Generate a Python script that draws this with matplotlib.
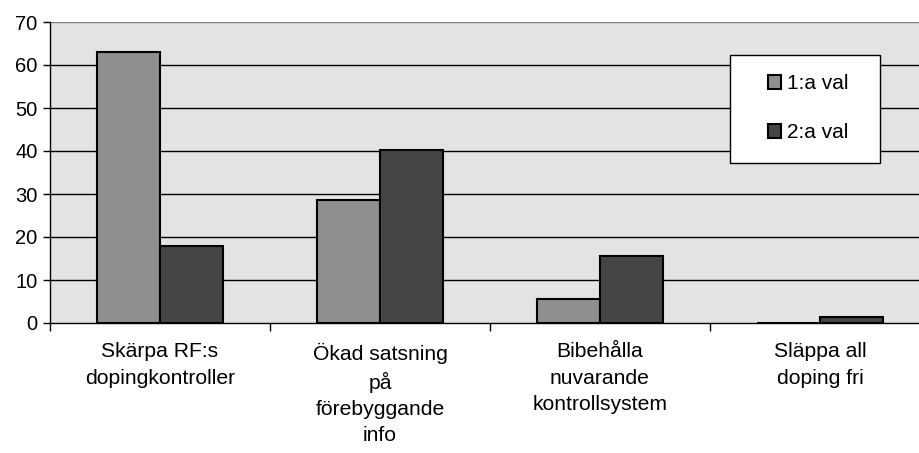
import matplotlib.pyplot as plt
import numpy as np
from matplotlib.patches import Rectangle

plt.rcParams['font.family'] = ['Liberation Sans', 'DejaVu Sans']

categories = ['Skärpa RF:s\ndopingkontroller',
              'Ökad satsning\npå\nförebyggande\ninfo',
              'Bibehålla\nnuvarande\nkontrollsystem',
              'Släppa all\ndoping fri']
series_names = ['1:a val', '2:a val']
val_1 = [63, 28.6, 5.5, 0]
val_2 = [18, 40.2, 15.6, 1.3]
colors = ['#8f8f8f', '#454545']

fig = plt.figure(figsize=(9.2, 4.53), dpi=100)
ax = fig.add_axes([50 / 920, 130 / 453, 880 / 920, 301 / 453])
ax.set_facecolor('#e3e3e3')

x = np.arange(len(categories))
w = 0.286
b1 = ax.bar(x - w / 2, val_1, w, color=colors[0], edgecolor='black', linewidth=1.5, zorder=3)
b2 = ax.bar(x + w / 2, val_2, w, color=colors[1], edgecolor='black', linewidth=1.5, zorder=3)

ax.set_xlim(-0.5, 3.5)
ax.set_ylim(0, 70)
ax.set_yticks(range(0, 71, 10))
ax.tick_params(axis='y', length=5, width=1, pad=4, labelsize=14.5)
for v in range(10, 70, 10):
    ax.axhline(v, color='black', linewidth=1, zorder=1)
ax.axhline(70, color='#808080', linewidth=1, zorder=1)

ax.set_xticks(x)
ax.set_xticklabels(categories, fontsize=15.2, linespacing=1.48)
ax.tick_params(axis='x', which='major', length=0, pad=14)
ax.set_xticks(np.arange(-0.5, 4, 1), minor=True)
ax.tick_params(axis='x', which='minor', length=6, width=1, direction='out')

for s in ['top', 'right']:
    ax.spines[s].set_visible(False)
ax.spines['left'].set_linewidth(1)
ax.spines['bottom'].set_linewidth(1)

# legend box
fig.patches.append(Rectangle((730 / 920, 1 - 163 / 453), 150 / 920, 108 / 453,
                             transform=fig.transFigure, facecolor='white',
                             edgecolor='black', linewidth=1, zorder=5))
leg = fig.legend([b1, b2], series_names, loc='center',
                 bbox_to_anchor=(808 / 920, 1 - 108 / 453), frameon=False,
                 fontsize=15, handlelength=0.65, handleheight=0.65,
                 handletextpad=0.25, labelspacing=1.45)
leg.set_zorder(6)

fig.savefig('out.png', dpi=100)
